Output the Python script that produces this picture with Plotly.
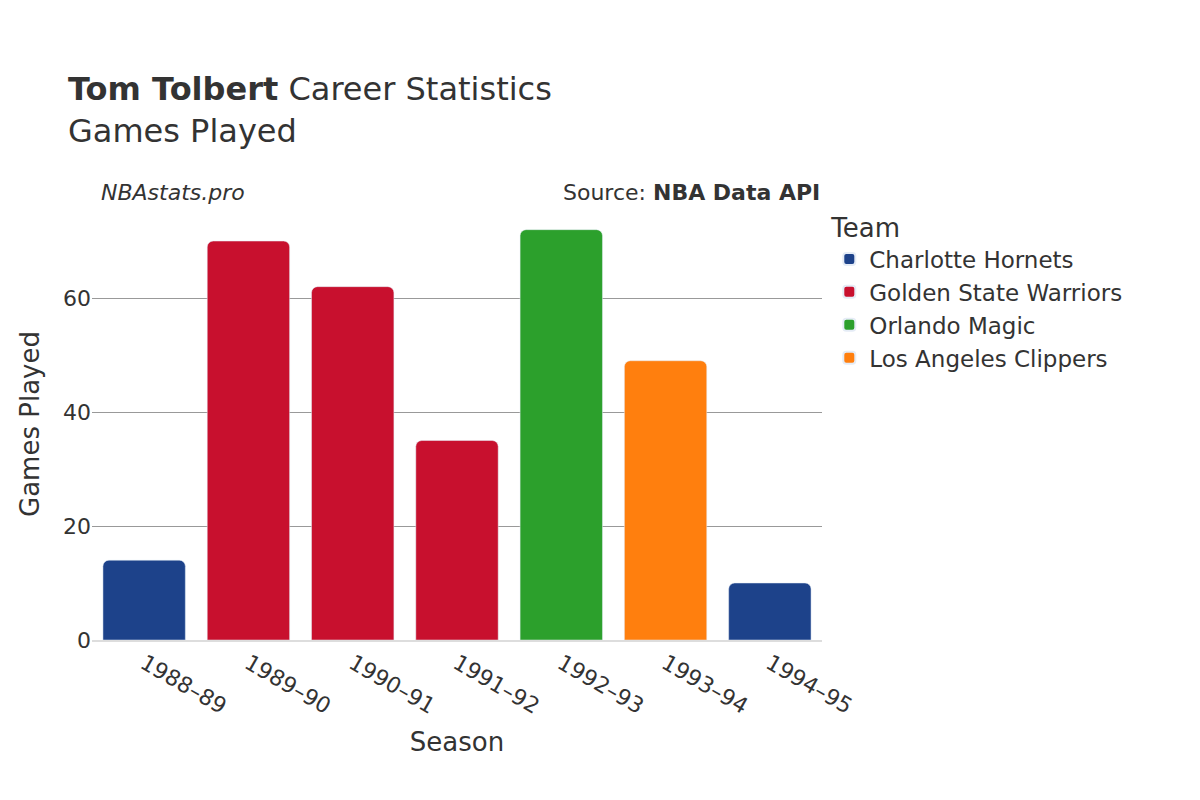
import plotly.graph_objects as go

seasons = ["1988–89", "1989–90", "1990–91", "1991–92", "1992–93", "1993–94", "1994–95"]
teams = ["Charlotte Hornets", "Golden State Warriors", "Golden State Warriors", "Golden State Warriors",
         "Orlando Magic", "Los Angeles Clippers", "Charlotte Hornets"]
games = [14, 70, 62, 35, 72, 49, 10]

team_order = ["Charlotte Hornets", "Golden State Warriors", "Orlando Magic", "Los Angeles Clippers"]
team_colors = {"Charlotte Hornets": "#1d428a", "Golden State Warriors": "#c8102e",
               "Orlando Magic": "#2ca02c", "Los Angeles Clippers": "#ff7f0e"}

fig = go.Figure()
for team in team_order:
    xs = [s for s, t in zip(seasons, teams) if t == team]
    ys = [g for g, t in zip(games, teams) if t == team]
    fig.add_trace(go.Bar(x=xs, y=ys, name=team, marker_color=team_colors[team]))

fig.update_layout(
    width=1200, height=800,
    font=dict(family="DejaVu Sans", size=22, color="#333"),
    plot_bgcolor="white", paper_bgcolor="white",
    title=dict(text="<b>Tom Tolbert</b> Career Statistics<br>Games Played",
               x=0.05, y=0.885, font=dict(size=32)),
    margin=dict(l=84, r=386, t=200, b=168),
    barmode="overlay", bargap=0.21, barcornerradius=6,
    legend=dict(title=dict(text="Team", font=dict(size=26)), x=1.01, y=1.01,
                font=dict(size=23), itemsizing="constant", tracegroupgap=8),
    xaxis=dict(title=dict(text="Season", font=dict(size=26)), tickangle=30,
               categoryorder="array", categoryarray=seasons, showline=True,
               linecolor="#ddd", linewidth=2),
    yaxis=dict(title=dict(text="Games Played", font=dict(size=26)), range=[0, 75.8],
               gridcolor="#999", tickvals=[0, 20, 40, 60], zeroline=False),
    annotations=[
        dict(text="<i>NBAstats.pro</i>", xref="paper", yref="paper", x=0.01, y=1.07,
             xanchor="left", showarrow=False, font=dict(size=22)),
        dict(text="Source: <b>NBA Data API</b>", xref="paper", yref="paper", x=1, y=1.07,
             xanchor="right", showarrow=False, font=dict(size=22)),
    ],
)

fig.write_html("out.html")
